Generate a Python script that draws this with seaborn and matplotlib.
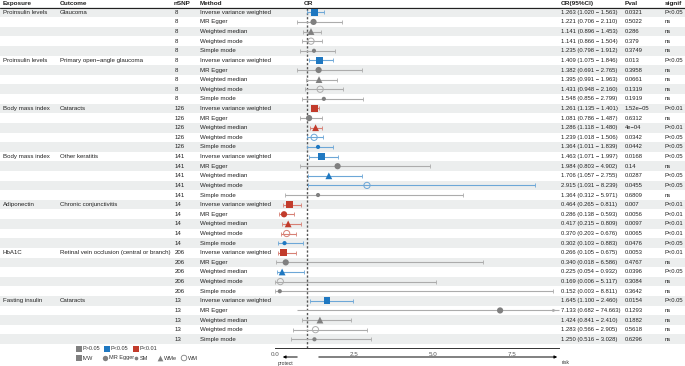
import numpy as np
import pandas as pd
import matplotlib
matplotlib.use("Agg")
import matplotlib.pyplot as plt
import matplotlib.colors as mcolors
import seaborn as sns

sns.set_style("white")
plt.rcParams['font.family'] = ['Liberation Sans', 'DejaVu Sans']

# data
exposures = ["Proinsulin levels", "Proinsulin levels", "Body mass index", "Body mass index",
             "Adiponectin", "HbA1C", "Fasting insulin"]
outcomes = ["Glaucoma", "Primary open\u2212angle glaucoma", "Cataracts", "Other keratitis",
            "Chronic conjunctivitis", "Retinal vein occlusion (central or branch)", "Cataracts"]
nsnp = [8, 8, 126, 141, 14, 206, 13]
methods = ["Inverse variance weighted", "MR Egger", "Weighted median", "Weighted mode", "Simple mode"]

or_vals = [1.263, 1.221, 1.141, 1.141, 1.235,
           1.409, 1.382, 1.395, 1.431, 1.548,
           1.261, 1.081, 1.286, 1.239, 1.364,
           1.463, 1.984, 1.706, 2.915, 1.364,
           0.464, 0.286, 0.417, 0.370, 0.302,
           0.266, 0.340, 0.225, 0.169, 0.152,
           1.645, 7.133, 1.424, 1.283, 1.250]
ci_low = [1.020, 0.706, 0.896, 0.866, 0.798,
          1.075, 0.691, 0.991, 0.948, 0.856,
          1.135, 0.786, 1.118, 1.018, 1.011,
          1.071, 0.803, 1.057, 1.031, 0.312,
          0.265, 0.138, 0.215, 0.203, 0.103,
          0.105, 0.018, 0.054, 0.006, 0.003,
          1.100, 0.682, 0.841, 0.566, 0.516]
ci_high = [1.563, 2.110, 1.453, 1.504, 1.912,
           1.846, 2.765, 1.963, 2.160, 2.799,
           1.401, 1.487, 1.480, 1.506, 1.839,
           1.997, 4.902, 2.755, 8.239, 5.971,
           0.811, 0.593, 0.809, 0.676, 0.883,
           0.675, 6.586, 0.932, 5.117, 8.811,
           2.460, 74.663, 2.410, 2.905, 3.028]
pvals = ["0.0321", "0.5022", "0.286", "0.379", "0.3749",
         "0.013", "0.3958", "0.0661", "0.1319", "0.1919",
         "1.52e\u221205", "0.6312", "4e\u221204", "0.0342", "0.0442",
         "0.0168", "0.14", "0.0287", "0.0455", "0.6809",
         "0.007", "0.0056", "0.0097", "0.0065", "0.0476",
         "0.0053", "0.4767", "0.0396", "0.3084", "0.3642",
         "0.0154", "0.1293", "0.1882", "0.5618", "0.6296"]
signif = ["P<0.05", "ns", "ns", "ns", "ns",
          "P<0.05", "ns", "ns", "ns", "ns",
          "P<0.01", "ns", "P<0.01", "P<0.05", "P<0.05",
          "P<0.05", "ns", "P<0.05", "P<0.05", "ns",
          "P<0.01", "P<0.01", "P<0.01", "P<0.01", "P<0.05",
          "P<0.01", "ns", "P<0.05", "ns", "ns",
          "P<0.05", "ns", "ns", "ns", "ns"]

n_rows = len(or_vals)
df = pd.DataFrame({
    "exposure": np.repeat(exposures, 5),
    "outcome": np.repeat(outcomes, 5),
    "nsnp": np.repeat(nsnp, 5),
    "method": methods * len(exposures),
    "OR": or_vals, "lo": ci_low, "hi": ci_high,
    "pval": pvals, "signif": signif,
})
df["row"] = np.arange(n_rows)

palette = {"ns": "#808080", "P<0.05": "#1F78C1", "P<0.01": "#C23B2B"}


def lighten(c, f):
    r = np.array(mcolors.to_rgb(c))
    return tuple(r + (1 - r) * f)


# layout in pixels
W, H = 685, 366
row_top = 12.3
row_h = (339.3 - 12.3) / (n_rows - 1)
px_left, px_right = 275, 559
x_max = 9.0
axis_y = 348

fig = plt.figure(figsize=(W / 100, H / 100), dpi=100)
bg = fig.add_axes([0, 0, 1, 1])
bg.set_xlim(0, W)
bg.set_ylim(H, 0)
bg.axis("off")

# alternate row shading
for i in range(n_rows):
    if i % 2 == 0:
        yc = row_top + i * row_h
        bg.axhspan(yc - row_h / 2, yc + row_h / 2, color="#ECEEEE", lw=0, zorder=0)

# header
fs = 4.45
fs_r = 4.2
tc = "#222222"
hdr_y = 3.8
for x, t in [(3, "Exposure"), (60, "Outcome"), (174, "nSNP"), (200, "Method"),
             (304, "OR"), (561, "OR(95%CI)"), (625, "Pval"), (665, "signif")]:
    bg.text(x, hdr_y, t, fontsize=4.6, fontweight="bold", color=tc, va="center", ha="left")
bg.plot([0, W], [7.5, 7.5], color="#222222", lw=0.8)

# table text
for i, r in df.iterrows():
    yc = row_top + i * row_h
    if i % 5 == 0:
        bg.text(3, yc, r["exposure"], fontsize=fs, color=tc, va="center")
        bg.text(60, yc, r["outcome"], fontsize=fs, color=tc, va="center")
    bg.text(175, yc, str(r["nsnp"]), fontsize=fs, color=tc, va="center")
    bg.text(200, yc, r["method"], fontsize=fs, color=tc, va="center")
    bg.text(561, yc, f"{r['OR']:.3f} ({r['lo']:.3f} \u2212 {r['hi']:.3f})", fontsize=fs_r, color=tc, va="center")
    bg.text(625, yc, r["pval"], fontsize=fs_r, color=tc, va="center")
    bg.text(665, yc, r["signif"], fontsize=fs_r, color=tc, va="center")

# forest panel
y_lo = (8 - row_top) / row_h
y_hi = (axis_y - row_top) / row_h
ax = fig.add_axes([px_left / W, (H - axis_y) / H, (px_right - px_left) / W, (axis_y - 8) / H])
ax.set_facecolor("none")
ax.set_xlim(0, x_max)
ax.set_ylim(y_hi, y_lo)

ax.axvline(1, color="#555555", lw=1.0, ls=(0, (1.6, 1.4)), zorder=1)

for i, r in df.iterrows():
    c = lighten(palette[r["signif"]], 0.35)
    hi = min(r["hi"], x_max)
    cap = 1.3 if r["hi"] <= x_max else 0
    ax.errorbar(r["OR"], r["row"], xerr=[[r["OR"] - r["lo"]], [hi - r["OR"]]],
                fmt="none", ecolor=c, elinewidth=0.8, capsize=cap, capthick=0.6,
                clip_on=False, zorder=2)
    if r["hi"] > x_max:
        ax.annotate("", xy=(x_max, r["row"]), xytext=(x_max - 0.3, r["row"]),
                    arrowprops=dict(arrowstyle="-|>", color=c, lw=0.7, mutation_scale=4),
                    annotation_clip=False)

marker_map = {"Inverse variance weighted": ("s", 24),
              "MR Egger": ("o", 20),
              "Weighted median": ("^", 24),
              "Weighted mode": ("o", 20),
              "Simple mode": ("o", 9)}
for m, (mk, sz) in marker_map.items():
    sub = df[df["method"] == m]
    sns.scatterplot(data=sub, x="OR", y="row", hue="signif", palette=palette,
                    marker=mk, s=sz, linewidth=0, legend=False, ax=ax, zorder=3, clip_on=False)
    if m == "Weighted mode":
        coll = ax.collections[-1]
        fc = coll.get_facecolors()
        coll.set_edgecolors([lighten(c[:3], 0.35) for c in fc])
        coll.set_facecolors("none")
        coll.set_linewidths(0.7)

ax.set_xticks([0, 2.5, 5.0, 7.5])
ax.set_xticklabels(["0.0", "2.5", "5.0", "7.5"])
ax.tick_params(axis="x", labelsize=4.5, colors="#555555", length=2, width=0.5, pad=1)
ax.set_yticks([])
ax.set_xlabel("")
ax.set_ylabel("")
for s in ["top", "right", "left"]:
    ax.spines[s].set_visible(False)
ax.spines["bottom"].set_color("#333333")
ax.spines["bottom"].set_linewidth(0.7)

# protect / risk arrows
bg.annotate("", xy=(280, 357), xytext=(300, 357),
            arrowprops=dict(arrowstyle="-|>", color="black", lw=0.7, mutation_scale=4))
bg.annotate("", xy=(560, 357), xytext=(316, 357),
            arrowprops=dict(arrowstyle="-|>", color="black", lw=0.7, mutation_scale=4))
bg.text(285, 363, "protect", fontsize=3.6, color="#333333", ha="center", va="center")
bg.text(562, 363, "risk", fontsize=3.6, color="#333333", ha="left", va="center")

# legends
lg_fs = 4.0
for x, lab in [(79, "P>0.05"), (107, "P<0.05"), (136, "P<0.01")]:
    col = {"P>0.05": palette["ns"], "P<0.05": palette["P<0.05"], "P<0.01": palette["P<0.01"]}[lab]
    bg.scatter(x, 349, marker="s", s=17, color=col, lw=0)
    bg.text(x + 4, 349, lab, fontsize=lg_fs, color="#333333", va="center")
leg2 = [(79, "s", 17, "IVW", True), (105, "o", 15, "MR Egger", True), (136, "o", 7, "SM", True),
        (160, "^", 17, "WMe", True), (184, "o", 16, "WM", False)]
for x, mk, sz, lab, filled in leg2:
    if filled:
        bg.scatter(x, 358, marker=mk, s=sz, color="#808080", lw=0)
    else:
        bg.scatter(x, 358, marker=mk, s=sz, facecolors="none", edgecolors="#808080", lw=0.6)
    bg.text(x + 4, 358, lab, fontsize=lg_fs, color="#333333", va="center")

fig.savefig("out.png", dpi=100)
